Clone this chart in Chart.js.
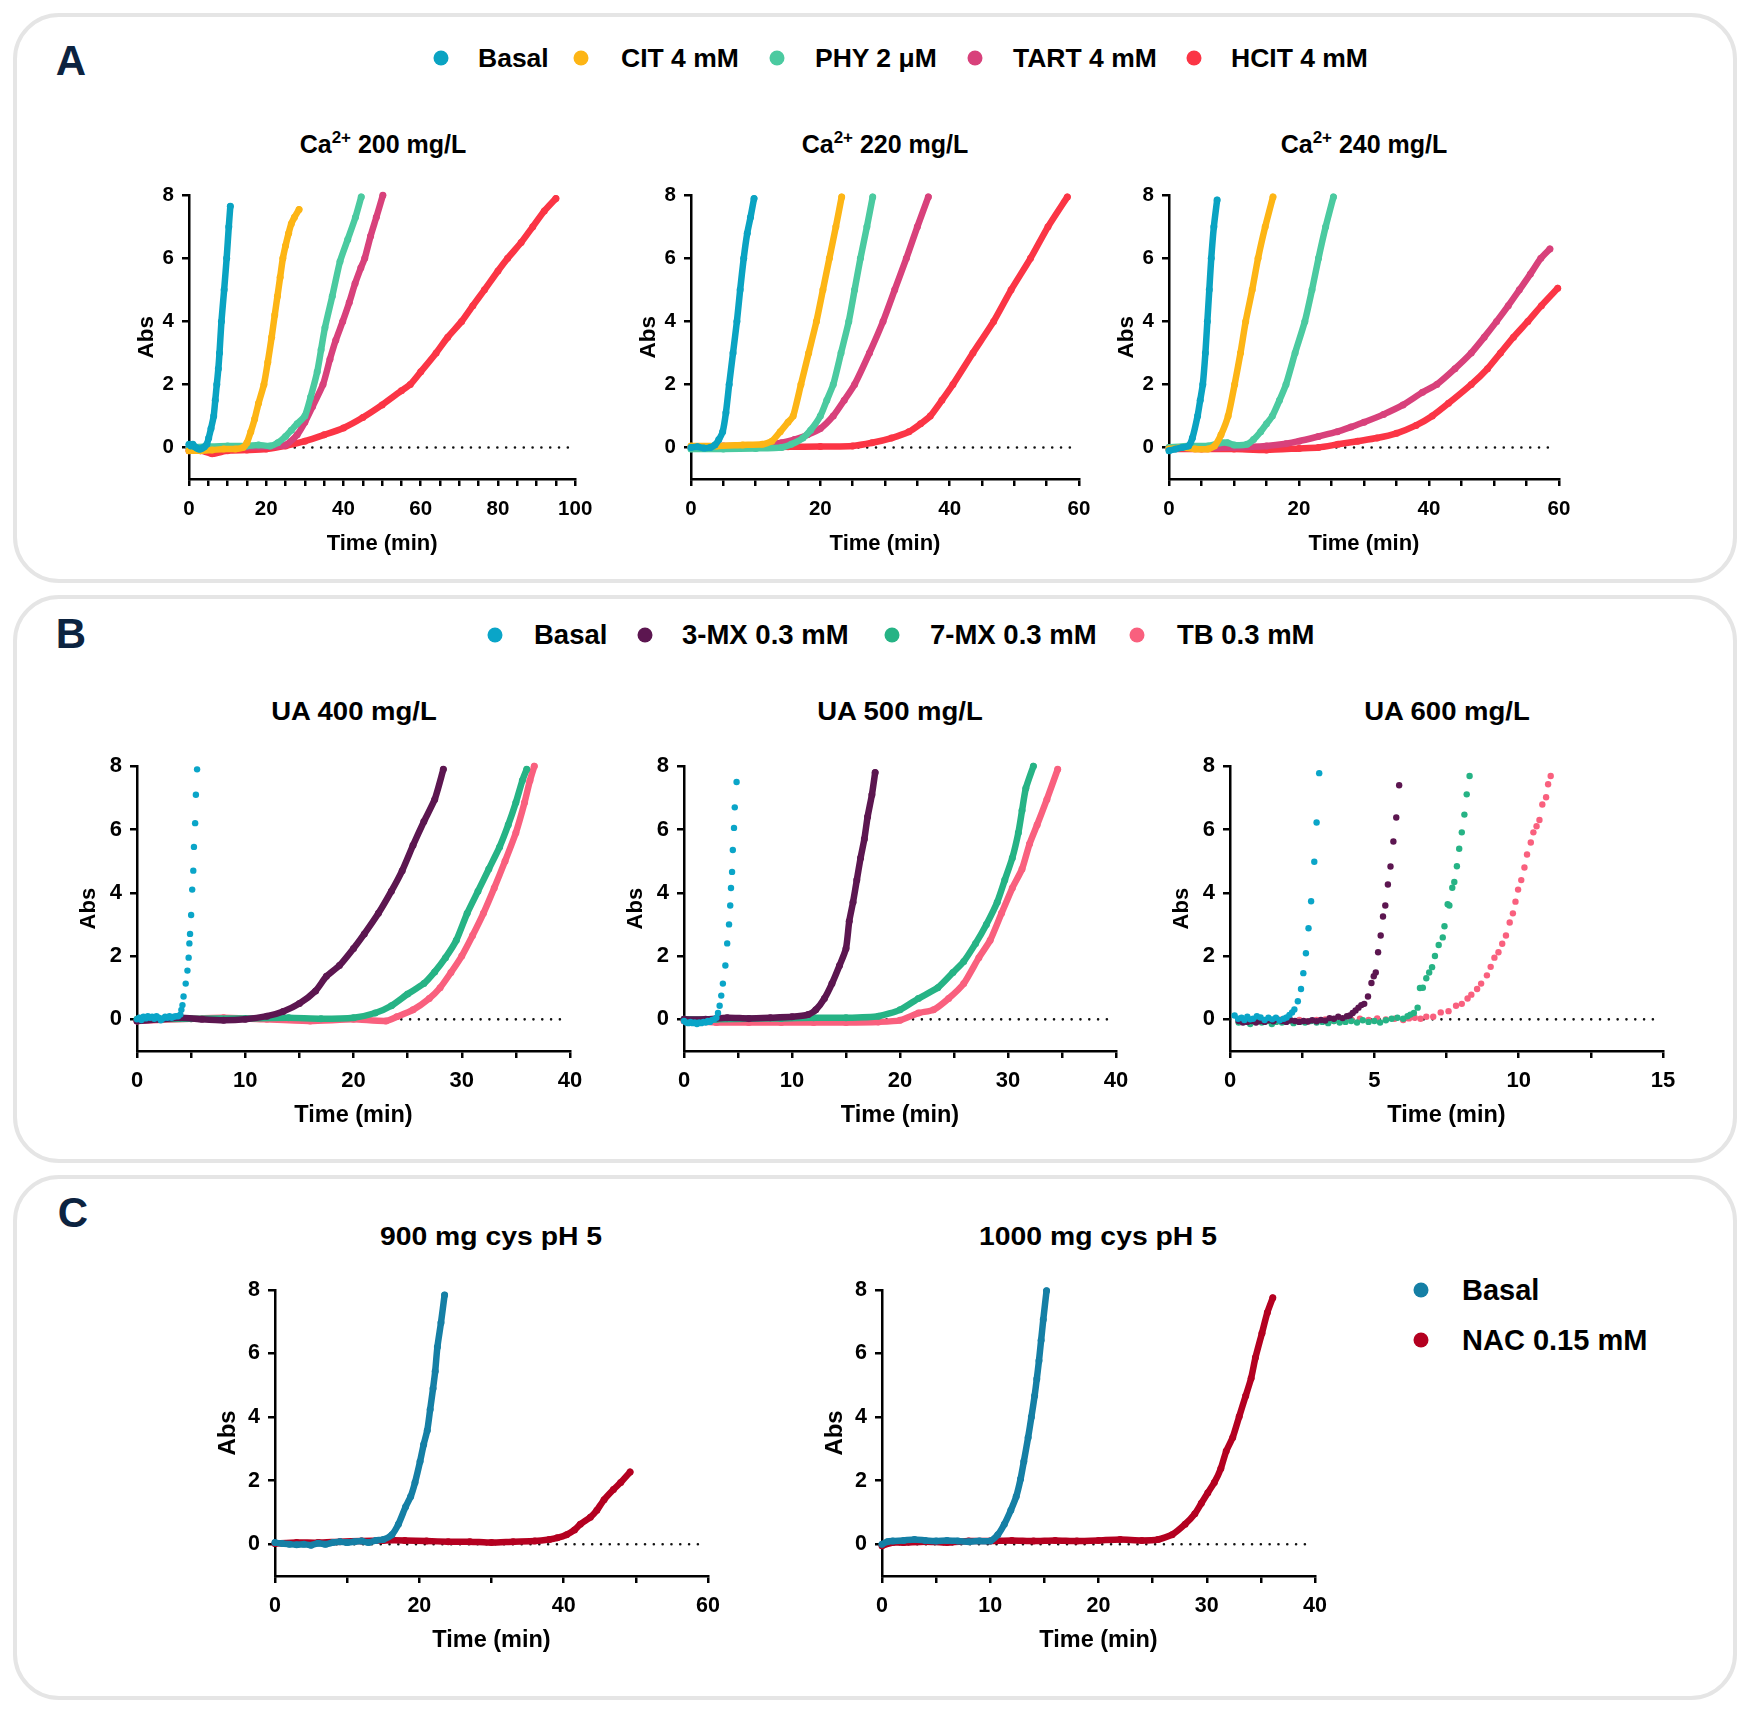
<!DOCTYPE html>
<html>
<head>
<meta charset="utf-8">
<script src="https://cdn.jsdelivr.net/npm/chart.js@4.4.1/dist/chart.umd.min.js"></script>
<style>
html,body{margin:0;padding:0;background:#fff;}
body{width:1750px;height:1713px;position:relative;overflow:hidden;font-family:"Liberation Sans",Arial,Helvetica,sans-serif;font-weight:bold;color:#000;}
.box{position:absolute;border:4px solid #e5e5e5;border-radius:46px;box-sizing:border-box;}
.lbl{position:absolute;transform:translate(-50%,-50%);white-space:nowrap;line-height:1;}
.letter{font-size:42px;color:#0c2340;}
.ttl{font-size:25px;}
.ttl sup{font-size:17px;vertical-align:baseline;position:relative;top:-10px;}
.ttlB{font-size:25px;transform:translate(-50%,-50%) scaleX(1.1);}
.ttlC{font-size:26px;transform:translate(-50%,-50%) scaleX(1.09);}
.leg{position:absolute;font-size:26.5px;line-height:1;white-space:nowrap;transform:translateY(-50%);}
.legB{font-size:27.5px;}
.legC{font-size:29px;}
.dot{position:absolute;width:15px;height:15px;border-radius:50%;transform:translate(-50%,-50%);}
canvas{position:absolute;}
</style>
</head>
<body>

<div class="box" style="left:13px;top:13px;width:1724px;height:570px;"></div>
<div class="box" style="left:13px;top:595px;width:1724px;height:568px;"></div>
<div class="box" style="left:13px;top:1175px;width:1724px;height:525px;"></div>

<div class="lbl letter" style="left:71px;top:61px;">A</div>
<div class="lbl letter" style="left:71px;top:634px;">B</div>
<div class="lbl letter" style="left:73px;top:1213px;">C</div>

<div class="lbl ttl" style="left:383px;top:144px;">Ca<sup>2+</sup> 200 mg/L</div>
<div class="lbl ttl" style="left:885px;top:144px;">Ca<sup>2+</sup> 220 mg/L</div>
<div class="lbl ttl" style="left:1364px;top:144px;">Ca<sup>2+</sup> 240 mg/L</div>

<div class="lbl ttlB" style="left:354px;top:711px;">UA 400 mg/L</div>
<div class="lbl ttlB" style="left:900px;top:711px;">UA 500 mg/L</div>
<div class="lbl ttlB" style="left:1447px;top:711px;">UA 600 mg/L</div>

<div class="lbl ttlC" style="left:491px;top:1236px;">900 mg cys pH 5</div>
<div class="lbl ttlC" style="left:1098px;top:1236px;">1000 mg cys pH 5</div>

<script>
// ---- categories / colours ----
const A_NAMES = ['Basal', 'CIT 4 mM', 'PHY 2 \u03bcM', 'TART 4 mM', 'HCIT 4 mM'];
const A_COLORS = ['#0aa3c2', '#fdb515', '#4bcaa0', '#d8417b', '#fb3545'];
const B_NAMES = ['Basal', '3-MX 0.3 mM', '7-MX 0.3 mM', 'TB 0.3 mM'];
const B_COLORS = ['#0aa5c8', '#5c1650', '#26b385', '#f9607e'];
const C_NAMES = ['Basal', 'NAC 0.15 mM'];
const C_COLORS = ['#157fa5', '#b40020'];

// ---- tick values ----
const Y_TICKS = [0, 2, 4, 6, 8];
const X_TICKS_100 = [0,5,10,15,20,25,30,35,40,45,50,55,60,65,70,75,80,85,90,95,100];
const X_TICKS_60 = [0,5,10,15,20,25,30,35,40,45,50,55,60];
const X_TICKS_60C = [0,10,20,30,40,50,60];
const X_TICKS_40 = [0,5,10,15,20,25,30,35,40];
const X_TICKS_15 = [0,2.5,5,7.5,10,12.5,15];

// ---- series: [time (min), Abs] ----
// A: Ca2+ 200 mg/L
const A200_BASAL = [[0,0.1],[0.5,0.05],[1,0.1],[1.5,0.02],[2,-0.02],[2.5,-0.05],[3,-0.05],[3.5,-0.02],[4,0.02],[4.6,0.1],[5.1,0.3],[5.7,0.6],[6.4,1.0],[6.8,1.5],[7.2,2.0],[7.6,2.5],[7.9,3.0],[8.4,4.0],[9.1,5.0],[9.75,6.0],[10.3,7.0],[10.7,7.65]];
const A200_CIT = [[0,-0.1],[3,-0.1],[6,-0.08],[9,-0.05],[12,-0.05],[14,0],[15,0.15],[16,0.5],[17,0.9],[18,1.4],[19.4,2.0],[20.4,2.7],[21.4,3.5],[22.2,4.2],[22.9,4.8],[23.6,5.4],[24.3,6.0],[25,6.4],[25.8,6.8],[26.5,7.1],[27.3,7.3],[28.5,7.55]];
const A200_PHY = [[0,0],[5,0.03],[10,0.05],[15,0.05],[18,0.08],[21,0.05],[23,0.15],[25,0.35],[26.5,0.55],[28,0.75],[30,1.0],[31.5,1.6],[33.2,2.4],[34.2,3.1],[35.2,3.8],[37.1,4.8],[39.1,5.9],[41.1,6.6],[43.1,7.3],[44.6,7.95]];
const A200_TART = [[0,0],[10,0],[20,0.02],[25,0.08],[28,0.4],[30,0.8],[32,1.3],[34.7,2.0],[36.5,2.8],[38,3.4],[39.8,4.0],[41.5,4.6],[43,5.2],[44.5,5.7],[45.5,6.0],[47,6.7],[48.5,7.3],[50.2,8.0]];
const A200_HCIT = [[0,-0.1],[3,-0.1],[6,-0.2],[10,-0.1],[15,-0.08],[20,-0.05],[25,0.05],[30,0.2],[35,0.4],[40,0.62],[45,0.95],[50,1.35],[55,1.8],[57.3,2.0],[60,2.4],[64,3.0],[67,3.5],[70.6,4.0],[73.5,4.5],[76.5,5.0],[80,5.6],[82.5,6.0],[86,6.5],[89,7.0],[92,7.5],[95,7.9]];
// A: Ca2+ 220 mg/L
const A220_BASAL = [[0,0],[1,0.02],[2,-0.02],[3,0],[3.7,0.08],[4.3,0.25],[4.9,0.5],[5.4,1.1],[5.9,2.0],[6.5,3.0],[7.1,4.0],[7.6,5.0],[8.15,6.0],[8.7,6.8],[9.2,7.3],[9.75,7.9]];
const A220_CIT = [[0,0.05],[4,0.05],[8,0.08],[11,0.1],[12.5,0.2],[13.8,0.5],[15,0.8],[15.8,1.0],[17,2.0],[18.2,3.0],[19.4,4.0],[20.4,5.0],[21.4,6.0],[22.4,7.0],[23.3,7.95]];
const A220_PHY = [[0,-0.05],[5,-0.05],[10,-0.03],[14,0],[15.5,0.1],[17.3,0.3],[18.5,0.55],[20,1.0],[21,1.5],[22,2.0],[23.2,3.0],[24.4,4.0],[25.3,5.0],[26.2,6.0],[27.2,7.0],[28.1,7.95]];
const A220_TART = [[0,0],[5,0.05],[10,0.05],[14,0.15],[16,0.25],[18,0.4],[20,0.6],[22,1.0],[23.7,1.5],[25.3,2.0],[27.6,3.0],[29.7,4.0],[31.5,5.0],[33.3,6.0],[35,7.0],[36.7,7.95]];
const A220_HCIT = [[0,0],[5,0],[10,0],[15,0.02],[20,0.03],[25,0.05],[28,0.15],[31,0.3],[33.7,0.5],[35.5,0.75],[37,1.0],[38.8,1.5],[40.5,2.0],[43.6,3.0],[46.8,4.0],[49.5,5.0],[52.5,6.0],[55.2,7.0],[58.2,7.95]];
// A: Ca2+ 240 mg/L
const A240_BASAL = [[0,-0.1],[1,-0.05],[2,0],[3,0.05],[3.6,0.3],[4.4,1.0],[4.8,1.5],[5.2,2.0],[5.6,3.0],[5.9,4.0],[6.2,5.0],[6.5,6.0],[6.9,7.0],[7.4,7.85]];
const A240_CIT = [[0,-0.05],[2,0],[4,-0.05],[6,-0.05],[7,0.05],[8,0.4],[9.1,1.0],[10.1,2.0],[11,3.0],[11.8,4.0],[12.8,5.0],[13.7,6.0],[14.8,7.0],[16,7.95]];
const A240_PHY = [[0,0],[3,0.05],[6,0.05],[8,0.15],[9,0.15],[10,0.08],[12,0.1],[13,0.25],[14.1,0.5],[15,0.75],[15.9,1.0],[17,1.5],[18,2.0],[19.4,3.0],[20.9,4.0],[22,5.0],[23,6.0],[24.1,7.0],[25.3,7.95]];
const A240_TART = [[0,0],[5,-0.02],[10,0],[15,0.05],[18,0.12],[20,0.2],[23,0.35],[25.9,0.5],[28,0.65],[30,0.8],[33,1.05],[36,1.35],[39,1.75],[41.2,2.0],[44,2.5],[46.5,3.0],[48.5,3.5],[50.4,4.0],[52.2,4.5],[53.9,5.0],[55.6,5.5],[57.2,6.0],[58.6,6.3]];
const A240_HCIT = [[0,-0.05],[5,-0.05],[10,-0.05],[15,-0.08],[20,-0.03],[23,0],[26,0.1],[29,0.2],[32,0.3],[35,0.45],[38,0.7],[40.5,1.0],[43,1.4],[46.5,2.0],[49,2.5],[51,3.0],[53,3.5],[55.2,4.0],[57.3,4.5],[59.8,5.05]];

// B: UA 400 mg/L
const B400_BASAL = [[0,0],[0.2,0.05],[0.4,-0.02],[0.6,0.08],[0.8,0.03],[1.0,0.1],[1.2,0.05],[1.4,0.08],[1.6,0.02],[1.8,0.1],[2.0,0.05],[2.2,-0.03],[2.4,0.03],[2.6,0.08],[2.8,0.05],[3.0,0.1],[3.2,0.05],[3.4,0.08],[3.6,0.1],[3.8,0.1],[4.0,0.15],[4.1,0.3],[4.2,0.45],[4.3,0.72],[4.5,1.13],[4.66,1.54],[4.77,1.95],[4.84,2.4],[4.9,2.7],[5.0,3.3],[5.1,4.1],[5.2,4.7],[5.26,5.45],[5.37,6.2],[5.44,7.1],[5.55,7.9]];
const B400_MX3 = [[0,-0.05],[2,0],[4,0.05],[6,0],[8,-0.03],[10,0],[12,0.1],[13.5,0.25],[15,0.5],[16.5,0.9],[17.5,1.36],[18.7,1.7],[20,2.24],[21,2.7],[22.3,3.35],[23.5,4.05],[24.5,4.7],[25.5,5.5],[26.5,6.25],[27.5,6.95],[28.3,7.9]];
const B400_MX7 = [[0,0],[5,0.02],[10,0.03],[14,0.05],[17,0.02],[20,0.05],[22,0.2],[23.5,0.43],[25,0.8],[26.5,1.13],[27.5,1.5],[28.5,1.95],[29.5,2.5],[30.5,3.35],[31.5,4.05],[32.5,4.75],[33.5,5.45],[34.3,6.15],[35,6.85],[35.6,7.55],[36,7.9]];
const B400_TB = [[0,-0.05],[5,0.02],[8,0.05],[12,0],[16,-0.05],[20,0],[23,-0.05],[24,0.08],[25.5,0.3],[27,0.66],[28,1.0],[29,1.48],[30,2.0],[31,2.65],[32,3.35],[33,4.15],[34,5.0],[35,5.9],[35.8,6.85],[36.3,7.55],[36.7,8.0]];
// B: UA 500 mg/L
const B500_BASAL = [[0,-0.05],[0.2,-0.1],[0.4,-0.12],[0.6,-0.08],[0.8,-0.12],[1.0,-0.1],[1.2,-0.15],[1.4,-0.1],[1.6,-0.12],[1.8,-0.08],[2.0,-0.1],[2.2,-0.05],[2.4,-0.08],[2.6,-0.02],[2.8,0],[3.0,0.05],[3.15,0.2],[3.3,0.43],[3.45,0.75],[3.6,1.13],[3.83,1.7],[4.0,2.4],[4.17,3.0],[4.28,3.6],[4.35,4.15],[4.45,4.66],[4.52,5.35],[4.63,6.05],[4.7,6.7],[4.87,7.5]];
const B500_MX3 = [[0,0],[2,0],[4,0.05],[6,0.03],[8,0.05],[10,0.08],[11.5,0.15],[12.2,0.3],[13,0.66],[13.7,1.13],[14.4,1.7],[15,2.24],[15.3,3.1],[15.65,3.7],[16,4.4],[16.35,5.1],[16.7,5.7],[17,6.4],[17.4,7.1],[17.7,7.8]];
const B500_MX7 = [[0,0],[3,0],[6,0.02],[9,0.03],[12,0.05],[15,0.05],[18,0.1],[20,0.3],[21.7,0.66],[23.5,1.0],[24.9,1.48],[25.9,1.83],[27,2.4],[28,3.0],[29,3.7],[29.7,4.4],[30.4,5.1],[30.96,5.9],[31.3,6.6],[31.65,7.3],[32.35,8.0]];
const B500_TB = [[0,-0.05],[3,-0.1],[6,-0.1],[9,-0.1],[12,-0.1],[15,-0.1],[18,-0.08],[20,-0.03],[21.7,0.2],[23.1,0.3],[24.5,0.66],[25.9,1.13],[27.3,1.95],[28.35,2.5],[29.4,3.35],[30.4,4.15],[31.3,4.75],[32,5.55],[32.7,6.15],[33.6,6.95],[34.6,7.9]];
// B: UA 600 mg/L
const B600_BASAL = [[0.16,0.12],[0.28,0.02],[0.4,0.05],[0.5,-0.02],[0.6,0.08],[0.7,0.0],[0.8,0.02],[0.93,0.1],[1.06,0.06],[1.2,-0.02],[1.33,0.05],[1.46,0.0],[1.59,0.05],[1.72,-0.03],[1.86,0.02],[1.96,0.06],[2.06,0.14],[2.15,0.22],[2.23,0.31],[2.35,0.57],[2.46,0.96],[2.54,1.46],[2.63,2.09],[2.72,2.88],[2.81,3.73],[2.92,4.98],[3.0,6.22],[3.09,7.78]];
const B600_MX3 = [[0.3,-0.05],[0.45,-0.1],[0.6,-0.08],[0.75,-0.05],[0.9,-0.1],[1.05,-0.05],[1.2,-0.08],[1.35,-0.03],[1.5,-0.06],[1.65,0],[1.8,-0.05],[1.95,-0.08],[2.1,-0.03],[2.25,-0.05],[2.4,-0.08],[2.55,-0.05],[2.7,-0.07],[2.85,-0.03],[3.0,-0.06],[3.15,-0.02],[3.3,-0.04],[3.45,0.04],[3.6,0.02],[3.75,0.08],[3.9,0.04],[4.05,0.1],[4.15,0.12],[4.25,0.2],[4.35,0.28],[4.45,0.37],[4.55,0.45],[4.65,0.49],[4.78,0.72],[4.9,1.15],[4.98,1.36],[5.05,1.48],[5.13,2.12],[5.22,2.65],[5.3,3.25],[5.38,3.6],[5.47,4.26],[5.56,4.83],[5.66,5.62],[5.76,6.38],[5.86,7.4]];
const B600_MX7 = [[0.3,-0.1],[0.5,-0.05],[0.7,-0.15],[0.9,-0.08],[1.1,-0.1],[1.3,-0.05],[1.45,-0.15],[1.6,-0.08],[1.8,-0.1],[2.0,-0.05],[2.2,-0.12],[2.4,-0.08],[2.6,-0.1],[2.8,-0.05],[3.0,-0.1],[3.2,-0.08],[3.4,-0.12],[3.6,-0.05],[3.8,-0.1],[4.0,-0.08],[4.2,-0.05],[4.4,-0.1],[4.6,-0.03],[4.8,-0.08],[5.0,-0.05],[5.2,-0.1],[5.4,-0.03],[5.6,0.02],[5.8,0.05],[6.0,0.02],[6.15,0.1],[6.25,0.15],[6.37,0.2],[6.5,0.37],[6.58,0.99],[6.68,1.0],[6.8,1.3],[6.9,1.48],[7.0,1.65],[7.1,2.0],[7.23,2.35],[7.37,2.59],[7.43,2.94],[7.54,3.64],[7.6,3.6],[7.7,4.16],[7.77,4.34],[7.86,4.84],[7.94,5.39],[8.03,5.91],[8.12,6.47],[8.2,7.11],[8.3,7.69]];
const B600_TB = [[0.3,-0.05],[0.6,0],[0.9,-0.08],[1.2,-0.03],[1.5,-0.06],[1.8,0],[2.1,-0.05],[2.4,-0.02],[2.7,-0.06],[3.0,-0.02],[3.3,0],[3.6,-0.05],[3.9,-0.02],[4.2,0],[4.5,0.02],[4.8,-0.02],[5.1,0.03],[5.4,0],[5.7,0.02],[6.0,-0.02],[6.2,0.03],[6.4,0.05],[6.6,0.02],[6.8,0.08],[7.04,0.08],[7.3,0.22],[7.57,0.26],[7.83,0.43],[8.03,0.49],[8.23,0.66],[8.36,0.78],[8.56,0.96],[8.7,1.13],[8.9,1.39],[9.03,1.66],[9.16,1.95],[9.3,2.12],[9.43,2.39],[9.56,2.65],[9.69,3.06],[9.8,3.35],[9.89,3.72],[9.98,4.1],[10.09,4.4],[10.2,4.8],[10.29,5.21],[10.42,5.59],[10.51,5.91],[10.62,6.1],[10.72,6.3],[10.82,6.79],[10.95,7.02],[11.02,7.43],[11.11,7.69]];

// C: 900 mg cys pH 5
const C900_BASAL = [[0,0.05],[1,0.02],[2,0],[3,-0.02],[4,0],[5,-0.03],[6,0.03],[7,0],[8,0.05],[9,0.08],[10,0.05],[11,0.08],[12,0.1],[13,0.05],[14,0.12],[15,0.15],[16.2,0.3],[17.1,0.63],[18.1,1.18],[18.8,1.5],[19.4,1.94],[20.1,2.6],[20.6,3.14],[21.1,3.58],[21.5,4.24],[21.9,4.9],[22.2,5.44],[22.5,6.2],[23,6.97],[23.5,7.84]];
const C900_NAC = [[0,0.02],[3,0.05],[6,0.05],[9,0.08],[12,0.1],[15,0.12],[18,0.12],[21,0.1],[24,0.08],[27,0.08],[30,0.05],[33,0.08],[36,0.1],[38,0.15],[39.1,0.2],[40.4,0.3],[41.5,0.45],[42.3,0.63],[43.7,0.85],[44.6,1.07],[45.6,1.4],[46.9,1.72],[47.9,1.94],[49.2,2.27]];
// C: 1000 mg cys pH 5
const C1000_BASAL = [[0,0],[0.5,0.08],[1,0.1],[2,0.12],[3,0.15],[4,0.12],[5,0.1],[6,0.12],[7,0.1],[8,0.08],[9,0.1],[10,0.1],[10.7,0.3],[11.3,0.63],[11.9,1.07],[12.4,1.5],[12.8,2.05],[13.1,2.6],[13.5,3.36],[13.8,4.0],[14.1,4.67],[14.3,5.2],[14.5,5.77],[14.7,6.42],[14.9,7.07],[15.2,7.97]];
const C1000_NAC = [[0,-0.05],[1,0.05],[2,0.05],[4,0.08],[6,0.05],[8,0.1],[10,0.1],[12,0.12],[14,0.1],[16,0.12],[18,0.1],[20,0.12],[22,0.15],[24,0.12],[25.5,0.15],[26.8,0.3],[28,0.63],[28.9,0.96],[29.5,1.29],[30.1,1.62],[30.7,1.94],[31.3,2.38],[31.8,2.93],[32.4,3.36],[33,4.02],[33.6,4.67],[34.1,5.22],[34.5,5.87],[35.1,6.64],[35.6,7.29],[36.1,7.75]];

const FONT = '"Liberation Sans", Arial, Helvetica, sans-serif';

function addLegendRow(names, colors, dotXs, textXs, y, cls){
  names.forEach((n, i) => {
    const d = document.createElement('div');
    d.className = 'dot';
    d.style.left = dotXs[i] + 'px'; d.style.top = y + 'px';
    d.style.background = colors[i];
    document.body.appendChild(d);
    const t = document.createElement('div');
    t.className = 'leg ' + cls;
    t.style.left = textXs[i] + 'px'; t.style.top = y + 'px';
    t.textContent = n;
    document.body.appendChild(t);
  });
}
addLegendRow(A_NAMES, A_COLORS, [441, 581, 777, 975, 1194], [478, 621, 815, 1013, 1231], 58, '');
addLegendRow(B_NAMES, B_COLORS, [495, 645, 892, 1137], [534, 682, 930, 1177], 635, 'legB');
addLegendRow([C_NAMES[0]], [C_COLORS[0]], [1421], [1462], 1290, 'legC');
addLegendRow([C_NAMES[1]], [C_COLORS[1]], [1421], [1462], 1340, 'legC');

function plot(p){
  const W_Y = 80, PAD_T = 16, PAD_R = 26, H_X = 95;
  const w = (p.R - p.L) + W_Y + PAD_R;
  const h = (p.B - p.T) + PAD_T + H_X;
  const cv = document.createElement('canvas');
  cv.width = w; cv.height = h;
  cv.style.left = (p.L - W_Y) + 'px';
  cv.style.top = (p.T - PAD_T) + 'px';
  cv.style.width = w + 'px'; cv.style.height = h + 'px';
  document.body.appendChild(cv);

  const sets = p.series.map((s, i) => ({
    data: s.pts.map(q => ({x: q[0], y: q[1]})),
    showLine: s.line,
    borderColor: s.color,
    backgroundColor: s.color,
    borderWidth: 6.5,
    borderCapStyle: 'round',
    borderJoinStyle: 'round',
    tension: 0.2,
    pointRadius: s.line ? 3.5 : 3.2,
    pointBorderWidth: 0,
    clip: false,
    order: i
  }));
  // dotted zero line
  sets.push({
    data: [{x: 0, y: 0}, {x: p.xmax * 0.985, y: 0}],
    showLine: true,
    borderColor: '#111',
    borderWidth: 2.6,
    borderDash: [0.01, 8.8],
    borderCapStyle: 'round',
    pointRadius: 0,
    clip: false,
    order: 99
  });

  const tickFont = {family: FONT, size: p.tick, weight: 'bold'};
  const axisGrid = {drawOnChartArea: false, drawTicks: true, tickLength: 7, color: '#000', lineWidth: 2.5};
  const axisBorder = {display: true, color: '#000', width: 2.5};
  const xTitleLH = p.xtitle * 1.2;
  const absLH = p.abs * 1.2;

  new Chart(cv, {
    type: 'scatter',
    data: {datasets: sets},
    options: {
      responsive: false,
      animation: false,
      events: [],
      layout: {padding: {top: PAD_T, right: PAD_R, left: 0, bottom: 0}},
      plugins: {legend: {display: false}, tooltip: {enabled: false}},
      scales: {
        x: {
          type: 'linear', min: 0, max: p.xmax,
          afterFit: s => { s.height = H_X; },
          afterBuildTicks: s => { s.ticks = p.xticks.map(v => ({value: v})); },
          ticks: {
            autoSkip: false, maxRotation: 0, minRotation: 0, padding: 23 - p.tick * 0.6,
            color: '#000', font: tickFont,
            callback: v => (v % p.major === 0 ? String(v) : '')
          },
          grid: axisGrid,
          border: axisBorder,
          title: {display: true, text: 'Time (min)', color: '#000',
                  font: {family: FONT, size: p.xtitle, weight: 'bold'},
                  padding: {top: 0, bottom: H_X - 65 - xTitleLH / 2}}
        },
        y: {
          type: 'linear', min: -1, max: 8,
          afterFit: s => { s.width = W_Y; },
          afterBuildTicks: s => { s.ticks = Y_TICKS.map(v => ({value: v})); },
          ticks: {padding: 8, color: '#000', font: tickFont},
          grid: axisGrid,
          border: axisBorder,
          title: {display: true, text: 'Abs', color: '#000', font: {family: FONT, size: p.abs, weight: 'bold'},
                  padding: {top: W_Y - p.absOff - absLH / 2, bottom: 0}}
        }
      }
    }
  });
}

const ser = (pts, color, line) => ({pts, color, line});
const FA = {tick: 20.5, xtitle: 22, abs: 22.5, absOff: 42.5};
const FB = {tick: 22, xtitle: 23.5, abs: 22, absOff: 48};
const FC = {tick: 21.5, xtitle: 23.5, abs: 24, absOff: 46.5};

plot(Object.assign({L: 189, R: 577, T: 191, B: 479, xmax: 100, xticks: X_TICKS_100, major: 20,
  series: [ser(A200_BASAL, A_COLORS[0], true), ser(A200_CIT, A_COLORS[1], true), ser(A200_PHY, A_COLORS[2], true), ser(A200_TART, A_COLORS[3], true), ser(A200_HCIT, A_COLORS[4], true)]}, FA));
plot(Object.assign({L: 691, R: 1079, T: 191, B: 479, xmax: 60, xticks: X_TICKS_60, major: 20,
  series: [ser(A220_BASAL, A_COLORS[0], true), ser(A220_CIT, A_COLORS[1], true), ser(A220_PHY, A_COLORS[2], true), ser(A220_TART, A_COLORS[3], true), ser(A220_HCIT, A_COLORS[4], true)]}, FA));
plot(Object.assign({L: 1169, R: 1559, T: 191, B: 479, xmax: 60, xticks: X_TICKS_60, major: 20,
  series: [ser(A240_BASAL, A_COLORS[0], true), ser(A240_CIT, A_COLORS[1], true), ser(A240_PHY, A_COLORS[2], true), ser(A240_TART, A_COLORS[3], true), ser(A240_HCIT, A_COLORS[4], true)]}, FA));

plot(Object.assign({L: 137, R: 570, T: 761, B: 1051, xmax: 40, xticks: X_TICKS_40, major: 10,
  series: [ser(B400_BASAL, B_COLORS[0], false), ser(B400_MX3, B_COLORS[1], true), ser(B400_MX7, B_COLORS[2], true), ser(B400_TB, B_COLORS[3], true)]}, FB));
plot(Object.assign({L: 684, R: 1116, T: 761, B: 1051, xmax: 40, xticks: X_TICKS_40, major: 10,
  series: [ser(B500_BASAL, B_COLORS[0], false), ser(B500_MX3, B_COLORS[1], true), ser(B500_MX7, B_COLORS[2], true), ser(B500_TB, B_COLORS[3], true)]}, FB));
plot(Object.assign({L: 1230, R: 1663, T: 761, B: 1051, xmax: 15, xticks: X_TICKS_15, major: 5,
  series: [ser(B600_BASAL, B_COLORS[0], false), ser(B600_MX3, B_COLORS[1], false), ser(B600_MX7, B_COLORS[2], false), ser(B600_TB, B_COLORS[3], false)]}, FB));

plot(Object.assign({L: 275, R: 708, T: 1285, B: 1576, xmax: 60, xticks: X_TICKS_60C, major: 20,
  series: [ser(C900_BASAL, C_COLORS[0], true), ser(C900_NAC, C_COLORS[1], true)]}, FC));
plot(Object.assign({L: 882, R: 1315, T: 1285, B: 1576, xmax: 40, xticks: X_TICKS_40, major: 10,
  series: [ser(C1000_BASAL, C_COLORS[0], true), ser(C1000_NAC, C_COLORS[1], true)]}, FC));
</script>
</body>
</html>
